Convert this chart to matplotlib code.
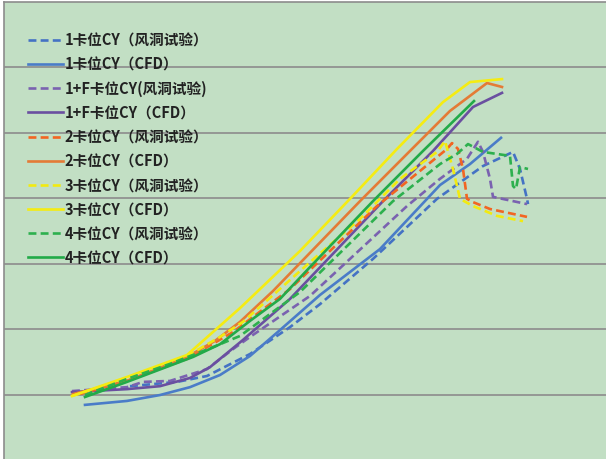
import matplotlib
matplotlib.use("Agg")
import matplotlib.pyplot as plt

plt.rcParams['font.family'] = ['Noto Sans CJK SC', 'DejaVu Sans']

# angle of attack (deg) and CY for each case
x_1_exp = [3.0, 5.35, 6.85, 9.0, 11.0, 12.5, 15.15, 18.35, 20.65, 22.15, 22.5, 22.85, 22.9]
y_1_exp = [0.027, 0.040, 0.058, 0.125, 0.207, 0.277, 0.415, 0.598, 0.698, 0.741, 0.689, 0.598, 0.582]
x_1_cfd = [0.75, 2.85, 4.5, 6.0, 7.5, 9.0, 10.5, 12.5, 15.5, 18.5, 20.0, 21.55]
y_1_cfd = [-0.030, -0.018, 0.000, 0.024, 0.061, 0.119, 0.198, 0.305, 0.445, 0.640, 0.704, 0.784]

x_1f_exp = [0.1, 2.85, 3.65, 5.0, 6.85, 8.15, 9.0, 12.0, 14.0, 16.85, 18.5, 19.85, 20.4, 20.65, 21.0, 21.15, 22.85]
y_1f_exp = [0.012, 0.024, 0.040, 0.043, 0.079, 0.140, 0.177, 0.302, 0.415, 0.576, 0.659, 0.720, 0.772, 0.741, 0.659, 0.604, 0.582]
x_1f_cfd = [0.1, 2.85, 4.5, 6.0, 7.0, 8.65, 11.0, 15.65, 18.15, 20.15, 21.6]
y_1f_cfd = [0.009, 0.018, 0.027, 0.052, 0.085, 0.168, 0.293, 0.591, 0.744, 0.878, 0.921]

x_2_exp = [0.5, 2.85, 5.85, 8.15, 11.0, 15.35, 17.5, 18.85, 19.1, 19.4, 19.65, 19.85, 20.15, 21.0, 22.85]
y_2_exp = [0.003, 0.043, 0.110, 0.192, 0.323, 0.576, 0.683, 0.750, 0.768, 0.750, 0.689, 0.598, 0.588, 0.567, 0.543]
x_2_cfd = [0.15, 2.85, 5.85, 7.25, 8.5, 10.15, 11.5, 14.5, 17.0, 19.0, 20.85, 21.6]
y_2_cfd = [0.003, 0.043, 0.116, 0.165, 0.223, 0.317, 0.402, 0.591, 0.744, 0.866, 0.951, 0.939]

x_3_exp = [0.1, 2.85, 5.85, 7.5, 8.65, 12.0, 14.5, 16.5, 18.35, 18.75, 19.15, 19.5, 20.15, 21.35, 22.65]
y_3_exp = [-0.003, 0.052, 0.119, 0.177, 0.223, 0.405, 0.537, 0.659, 0.741, 0.774, 0.689, 0.598, 0.576, 0.546, 0.530]
x_3_cfd = [0.1, 2.85, 5.85, 8.5, 9.5, 11.5, 14.0, 16.35, 18.65, 20.0, 21.6]
y_3_cfd = [-0.003, 0.055, 0.122, 0.265, 0.323, 0.439, 0.598, 0.750, 0.893, 0.954, 0.963]

x_4_exp = [0.75, 2.85, 5.0, 7.15, 8.5, 11.5, 16.15, 18.5, 19.35, 19.9, 20.65, 22.0, 22.15, 22.3, 22.5, 22.9]
y_4_exp = [0.000, 0.049, 0.095, 0.146, 0.180, 0.314, 0.591, 0.704, 0.735, 0.765, 0.741, 0.729, 0.637, 0.628, 0.695, 0.689]
x_4_cfd = [0.75, 2.85, 6.15, 7.5, 9.0, 10.5, 12.0, 15.15, 17.65, 20.2]
y_4_cfd = [-0.006, 0.040, 0.116, 0.155, 0.226, 0.293, 0.390, 0.591, 0.744, 0.896]

labels = ['1卡位CY（风洞试验）', '1卡位CY（CFD）',
          '1+F卡位CY(风洞试验)', '1+F卡位CY（CFD）',
          '2卡位CY（风洞试验）', '2卡位CY（CFD）',
          '3卡位CY（风洞试验）', '3卡位CY（CFD）',
          '4卡位CY（风洞试验）', '4卡位CY（CFD）']

series = [(x_1_exp, y_1_exp, '#4472C4', True), (x_1_cfd, y_1_cfd, '#4A7CC8', False),
          (x_1f_exp, y_1f_exp, '#7A62B0', True), (x_1f_cfd, y_1f_cfd, '#6A4FA0', False),
          (x_2_exp, y_2_exp, '#F26522', True), (x_2_cfd, y_2_cfd, '#E47B36', False),
          (x_3_exp, y_3_exp, '#F2EA10', True), (x_3_cfd, y_3_cfd, '#F5EC12', False),
          (x_4_exp, y_4_exp, '#2DB04E', True), (x_4_cfd, y_4_cfd, '#22AA48', False)]

fig = plt.figure(figsize=(6.06, 4.6), dpi=100)
fig.patch.set_facecolor('white')
ax = fig.add_axes([4/606, 0, 602/606, 457/460])
ax.set_facecolor('#C2DFC4')

for (xs, ys, c, dashed), lab in zip(series, labels):
    if dashed:
        ax.plot(xs, ys, color=c, lw=1.9, ls=(0, (3, 1.6)), label=lab)
    else:
        ax.plot(xs, ys, color=c, lw=1.9, label=lab)

ax.set_xlim(-3.3, 26.8)
ax.set_ylim(-0.195, 1.198)
ax.set_yticks([0, 0.2, 0.4, 0.6, 0.8, 1.0])
ax.set_xticks([])
ax.yaxis.grid(True, color='#8C8C8C', lw=1.2)
ax.set_axisbelow(True)
ax.tick_params(left=False, labelleft=False)
for s in ['right', 'bottom']:
    ax.spines[s].set_visible(False)
for s in ['left', 'top']:
    ax.spines[s].set_color('#8C8C8C')
    ax.spines[s].set_linewidth(1.2)

leg = ax.legend(loc='upper left', bbox_to_anchor=(22/606, 1 - 27/460), bbox_transform=fig.transFigure,
                frameon=False, handlelength=2.4, handletextpad=0.1, labelspacing=0.56,
                prop={'size': 10.5, 'weight': 'bold'}, borderaxespad=0)
for t in leg.get_texts():
    t.set_color('#222222')

fig.savefig('out.png', dpi=100)
